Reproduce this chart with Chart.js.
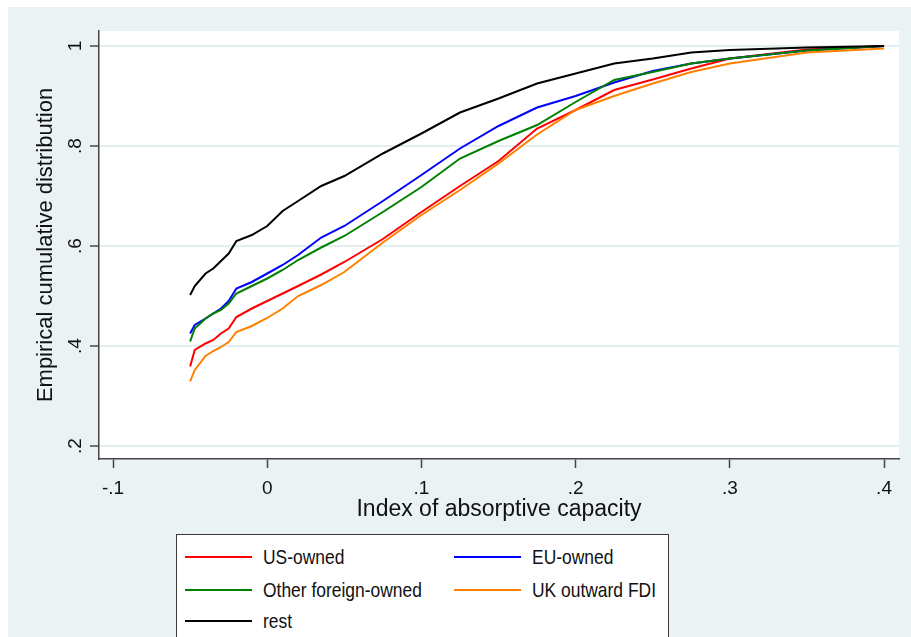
<!DOCTYPE html>
<html>
<head>
<meta charset="utf-8">
<script src="https://cdn.jsdelivr.net/npm/chart.js@4"></script>
<style>
	html, body { margin: 0; padding: 0; background: #fff; overflow: hidden; }
	#wrap { position: relative; width: 911px; height: 637px; overflow: hidden; }
	#legend {
		position: absolute; left: 176px; top: 534px; width: 491px; height: 130px;
		background: #fff; border: 1.5px solid #3a3a3a;
		font-family: "Liberation Sans", Arial, sans-serif;
		font-size: 21px; color: #111;
	}
	.swatch { position: absolute; width: 67px; height: 2px; }
	.label {
		position: absolute; line-height: 24px; white-space: nowrap;
		transform: scaleX(0.83); transform-origin: left center;
	}
</style>
</head>
<body>
<div id="wrap">
	<canvas id="ecdf-chart" width="911" height="637"></canvas>
	<div id="legend"></div>
</div>
<script>
// values
const xValues = [-0.05, -0.047, -0.04, -0.035, -0.03, -0.025, -0.02, -0.01, 0, 0.01, 0.02, 0.035, 0.05, 0.075, 0.1, 0.125, 0.15, 0.175, 0.2, 0.225, 0.25, 0.275, 0.3, 0.35, 0.4];
const usOwned = [0.359, 0.392, 0.405, 0.412, 0.425, 0.435, 0.458, 0.475, 0.49, 0.505, 0.52, 0.543, 0.568, 0.614, 0.668, 0.72, 0.77, 0.835, 0.872, 0.912, 0.933, 0.955, 0.975, 0.993, 1.0];
const euOwned = [0.425, 0.442, 0.455, 0.465, 0.475, 0.49, 0.515, 0.528, 0.545, 0.562, 0.582, 0.617, 0.64, 0.69, 0.742, 0.795, 0.84, 0.877, 0.9, 0.927, 0.95, 0.965, 0.975, 0.991, 1.0];
const otherForeign = [0.409, 0.435, 0.455, 0.465, 0.472, 0.485, 0.505, 0.52, 0.535, 0.552, 0.572, 0.597, 0.62, 0.668, 0.718, 0.775, 0.81, 0.842, 0.888, 0.932, 0.948, 0.965, 0.975, 0.991, 1.0];
const ukOutward = [0.329, 0.352, 0.38, 0.39, 0.398, 0.408, 0.428, 0.44, 0.456, 0.475, 0.5, 0.522, 0.548, 0.607, 0.662, 0.712, 0.765, 0.823, 0.872, 0.9, 0.925, 0.948, 0.965, 0.987, 0.995];
const rest = [0.502, 0.52, 0.545, 0.555, 0.57, 0.585, 0.61, 0.622, 0.64, 0.67, 0.69, 0.72, 0.74, 0.785, 0.825, 0.867, 0.895, 0.925, 0.945, 0.965, 0.975, 0.987, 0.992, 0.997, 1.0];

const seriesNames = ['US-owned', 'EU-owned', 'Other foreign-owned', 'UK outward FDI', 'rest'];
const seriesValues = [usOwned, euOwned, otherForeign, ukOutward, rest];
const seriesColors = ['#ff0000', '#0000ff', '#008000', '#ff8000', '#000000'];
const seriesOrder = [4, 3, 2, 1, 0];

const xTickValues = [-0.1, 0, 0.1, 0.2, 0.3, 0.4];
const xTickLabels = ['-.1', '0', '.1', '.2', '.3', '.4'];
const yTickValues = [0.2, 0.4, 0.6, 0.8, 1];
const yTickLabels = ['.2', '.4', '.6', '.8', '1'];

const FONT = '"Liberation Sans", Arial, sans-serif';

const backgroundPlugin = {
	id: 'stataBackground',
	beforeDraw(chart) {
		const { ctx, chartArea } = chart;
		ctx.save();
		ctx.fillStyle = '#eaf2f3';
		ctx.fillRect(8, 7, chart.width - 8, chart.height - 7);
		ctx.fillStyle = '#fff';
		ctx.fillRect(chartArea.left, chartArea.top, chartArea.right - chartArea.left, chartArea.bottom - chartArea.top);
		ctx.restore();
	},
};

document.addEventListener('DOMContentLoaded', () => {
	ecdfChart();
	buildLegend();
});

function ecdfChart() {
	const ctx = document.getElementById('ecdf-chart');

	if (!ctx) {
		return;
	}

	new Chart(ctx, {
		type: 'line',
		data: {
			datasets: seriesNames.map((name, i) => ({
				label: name,
				data: xValues.map((x, j) => ({ x: x, y: seriesValues[i][j] })),
				borderColor: seriesColors[i],
				backgroundColor: seriesColors[i],
				borderWidth: 2,
				pointRadius: 0,
				tension: 0,
				order: seriesOrder[i],
			})),
		},
		options: {
			responsive: false,
			animation: false,
			devicePixelRatio: 1,
			layout: {
				padding: { left: 8, top: 31, right: 12, bottom: 107 },
			},
			plugins: {
				legend: { display: false },
				tooltip: { enabled: false },
			},
			scales: {
				x: {
					type: 'linear',
					min: -0.1091,
					max: 0.4097,
					afterBuildTicks: (s) => { s.ticks = xTickValues.map((v) => ({ value: v })); },
					afterFit: (s) => { s.height = 71; },
					ticks: {
						autoSkip: false,
						maxRotation: 0,
						padding: 9,
						color: '#111',
						font: { family: FONT, size: 19 },
						callback: (v, i) => xTickLabels[i],
					},
					grid: {
						drawOnChartArea: false,
						tickLength: 9,
						tickColor: '#444',
						tickWidth: 1.5,
					},
					border: { color: '#444', width: 1.5 },
					title: {
						display: true,
						text: 'Index of absorptive capacity',
						color: '#111',
						font: { family: FONT, size: 23 },
						padding: { top: 0, bottom: 7 },
					},
				},
				y: {
					type: 'linear',
					min: 0.174,
					max: 1.03,
					afterBuildTicks: (s) => { s.ticks = yTickValues.map((v) => ({ value: v })); },
					afterFit: (s) => { s.width = 91; },
					ticks: {
						autoSkip: false,
						minRotation: 90,
						maxRotation: 90,
						crossAlign: 'center',
						padding: 6,
						color: '#111',
						font: { family: FONT, size: 19 },
						callback: (v, i) => yTickLabels[i],
					},
					grid: {
						color: '#e4eef1',
						lineWidth: 2,
						tickLength: 9,
						tickColor: '#444',
						tickWidth: 1.5,
					},
					border: { color: '#444', width: 1.5 },
					title: {
						display: true,
						text: 'Empirical cumulative distribution',
						color: '#111',
						font: { family: FONT, size: 22 },
						padding: { top: 25, bottom: 0 },
					},
				},
			},
		},
		plugins: [backgroundPlugin],
	});
}

function buildLegend() {
	const box = document.getElementById('legend');
	const lineLeft = [8, 277];
	const textLeft = [86, 355];
	const rowCenter = [22, 55, 86];

	seriesNames.forEach((name, i) => {
		const col = i % 2;
		const row = Math.floor(i / 2);
		const sw = document.createElement('div');
		sw.className = 'swatch';
		sw.style.left = lineLeft[col] + 'px';
		sw.style.top = (rowCenter[row] - 1) + 'px';
		sw.style.background = seriesColors[i];
		box.appendChild(sw);

		const lb = document.createElement('div');
		lb.className = 'label';
		lb.style.left = textLeft[col] + 'px';
		lb.style.top = (rowCenter[row] - 12) + 'px';
		lb.textContent = name;
		box.appendChild(lb);
	});
}
</script>
</body>
</html>
